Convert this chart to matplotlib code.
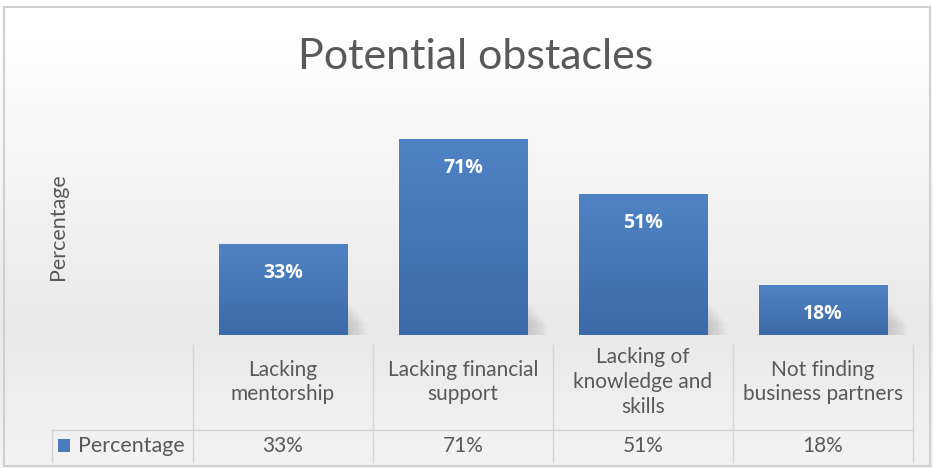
import numpy as np
import matplotlib
matplotlib.use("Agg")
import matplotlib.pyplot as plt
from matplotlib.patches import Rectangle
import matplotlib.transforms as mtransforms

categories = ["Lacking\nmentorship", "Lacking financial\nsupport",
              "Lacking of\nknowledge and\nskills", "Not finding\nbusiness partners"]
values = [33, 71, 51, 18]
value_labels = ["33%", "71%", "51%", "18%"]
series_name = "Percentage"
title = "Potential obstacles"

W, H = 933, 468
fig = plt.figure(figsize=(W / 100, H / 100), dpi=100)
FONT = ["Lato", "DejaVu Sans"]
plt.rcParams["font.family"] = FONT
grey_txt = "#595959"
line_c = "#d4d4d4"

# background gradient (top white -> light grey)
bg = fig.add_axes([0, 0, 1, 1], zorder=-10)
ypix = np.linspace(H, 0, 256)  # row 0 = bottom
vals = np.interp(ypix, [0, 30, 120, 330, 468], [1.0, 1.0, 0.975, 0.915, 0.955])
img = np.dstack([vals, vals, vals]).reshape(256, 1, 3)
bg.imshow(img, aspect="auto", extent=[0, 1, 0, 1], origin="lower")
bg.set_xlim(0, 1); bg.set_ylim(0, 1); bg.axis("off")
bg.add_patch(Rectangle((4 / W, 1 - 466 / H), 926 / W, 459 / H, fill=False,
                       edgecolor="#d0d0d0", lw=1.5, transform=bg.transAxes))

ax = fig.add_axes([193 / W, (H - 335) / H, 720 / W, 220.8 / H])
ax.set_facecolor("none")
x = np.arange(len(values))
bw = 0.715
bars = ax.bar(x, values, width=bw, color="#4a7bbb", zorder=3)
ax.set_xlim(-0.5, len(values) - 0.5)
ax.set_ylim(0, 80)

for b, v in zip(bars, values):
    x0 = b.get_x(); w = b.get_width()
    g = np.linspace(0, 1, 64)
    r = np.interp(g, [0, 1], [0x3d, 0x50]) / 255
    gg = np.interp(g, [0, 1], [0x6a, 0x83]) / 255
    bb = np.interp(g, [0, 1], [0xa8, 0xc4]) / 255
    im = ax.imshow(np.dstack([r, gg, bb]).reshape(64, 1, 3),
                   extent=[x0, x0 + w, 0, v], aspect="auto", origin="lower", zorder=4)
    im.set_clip_path(b)
    for k in range(8):
        ax.add_patch(Rectangle((x0 + w * 0.5 + k * 0.008, 0),
                               w * 0.5 + 0.01 + k * 0.006,
                               min(v, 12) * (1 - k * 0.09),
                               facecolor="#8a8a8a", alpha=0.05, lw=0, zorder=2))
ax.set_xticks([]); ax.set_yticks([])
for s in ax.spines.values():
    s.set_visible(False)

for xi, v, lab in zip(x, values, value_labels):
    ax.annotate(lab, (xi, v), xytext=(0, -21), textcoords="offset points",
                ha="center", va="center", color="white", fontsize=14,
                fontweight="bold", zorder=6, family=["Open Sans", "DejaVu Sans"])

fig.text(476 / W, 1 - 57 / H, title, ha="center", va="center", fontsize=31,
         color=grey_txt)
fig.text(58 / W, 1 - 227 / H, series_name, ha="center", va="center",
         rotation=90, fontsize=15.5, color=grey_txt)

trans = mtransforms.blended_transform_factory(ax.transData, fig.transFigure)
fy = lambda py: 1 - py / H
for xi, cat in zip(x, categories):
    ax.text(xi, fy(382), cat, transform=trans, ha="center", va="center",
            fontsize=15, color=grey_txt, linespacing=1.3, clip_on=False)
for xi, lab in zip(x, value_labels):
    ax.text(xi, fy(446), lab, transform=trans, ha="center", va="center",
            fontsize=15, color=grey_txt, clip_on=False)
for b in np.arange(len(values) + 1) - 0.5:
    ax.plot([b, b], [fy(345), fy(462)], transform=trans, color=line_c,
            lw=1, clip_on=False)
fig.add_artist(plt.Line2D([52 / W, 913 / W], [fy(430), fy(430)], color=line_c, lw=1))
fig.add_artist(plt.Line2D([52 / W, 52 / W], [fy(430), fy(462)], color=line_c, lw=1))
fig.add_artist(Rectangle((58 / W, fy(452)), 12 / W, 13 / H, facecolor="#4a7bbb",
                         transform=fig.transFigure))
fig.text(78 / W, fy(446), series_name, ha="left", va="center", fontsize=15.5,
         color=grey_txt)

fig.savefig("out.png", dpi=100)
